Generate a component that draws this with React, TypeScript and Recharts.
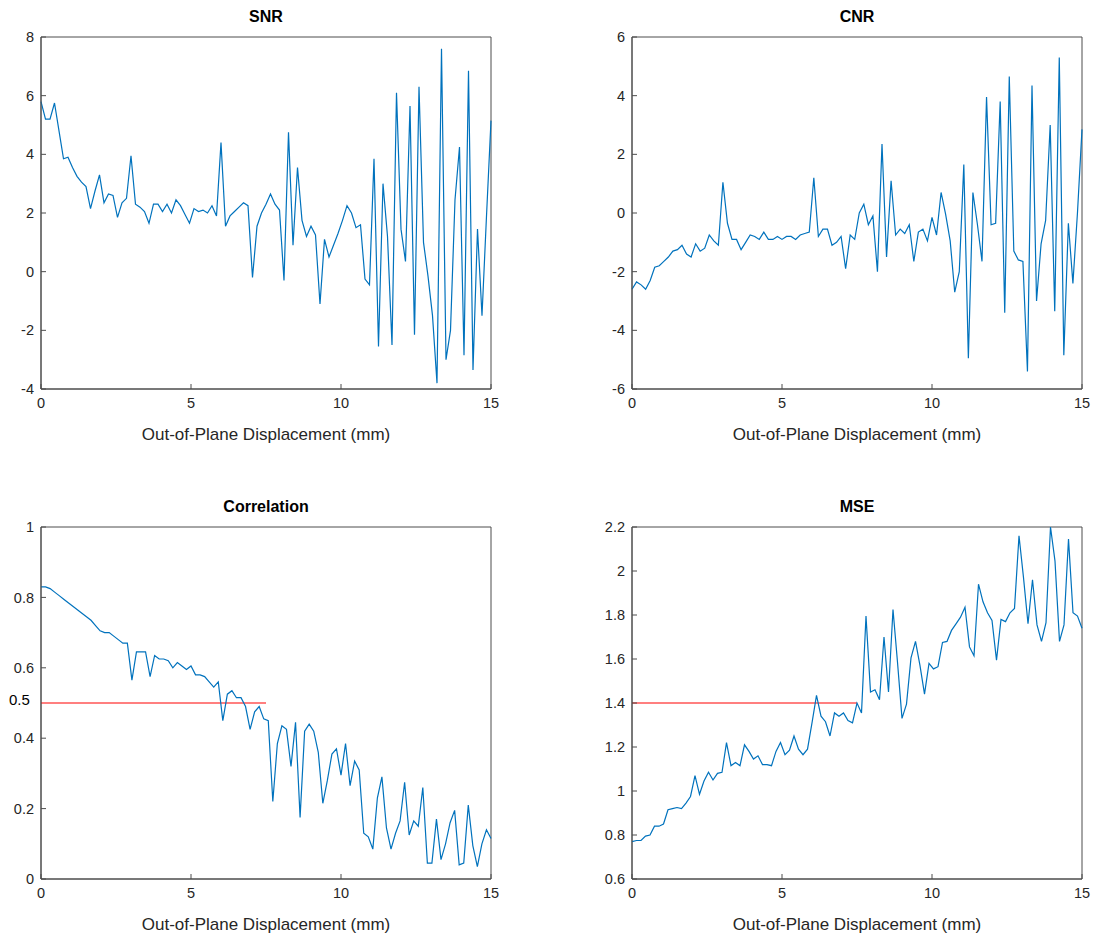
import { LineChart, Line, XAxis, YAxis, ReferenceLine, ReferenceArea } from "recharts";

const snrValues = [5.8, 5.2, 5.2, 5.75, 4.8, 3.85, 3.9, 3.55, 3.25, 3.05, 2.9, 2.15, 2.75, 3.3, 2.35, 2.65, 2.6, 1.85, 2.35, 2.5, 3.95, 2.3, 2.2, 2.05, 1.65, 2.3, 2.3, 2.05, 2.3, 2.0, 2.45, 2.25, 1.95, 1.65, 2.15, 2.05, 2.1, 2.0, 2.25, 1.9, 4.4, 1.55, 1.9, 2.05, 2.2, 2.35, 2.25, -0.2, 1.55, 2.0, 2.3, 2.65, 2.3, 2.1, -0.3, 4.75, 0.9, 3.55, 1.75, 1.2, 1.55, 1.25, -1.1, 1.1, 0.5, 0.9, 1.3, 1.75, 2.25, 2.0, 1.5, 1.6, -0.25, -0.45, 3.85, -2.55, 3.0, 1.2, -2.5, 6.1, 1.45, 0.35, 5.65, -2.15, 6.3, 1.0, -0.15, -1.5, -3.8, 7.6, -3.0, -2.0, 2.45, 4.25, -2.85, 6.85, -3.35, 1.45, -1.5, 1.9, 5.15];

const cnrValues = [-2.6, -2.35, -2.45, -2.6, -2.3, -1.85, -1.8, -1.65, -1.5, -1.3, -1.25, -1.1, -1.4, -1.5, -1.05, -1.3, -1.2, -0.75, -0.95, -1.1, 1.05, -0.35, -0.9, -0.9, -1.25, -1.0, -0.75, -0.8, -0.9, -0.65, -0.9, -0.9, -0.8, -0.9, -0.8, -0.8, -0.9, -0.75, -0.7, -0.65, 1.2, -0.8, -0.55, -0.55, -1.1, -1.0, -0.8, -1.9, -0.75, -0.9, 0.0, 0.3, -0.4, -0.1, -2.0, 2.35, -1.5, 1.1, -0.75, -0.55, -0.7, -0.4, -1.65, -0.65, -0.55, -0.95, -0.15, -0.75, 0.7, -0.05, -0.95, -2.7, -2.0, 1.65, -4.95, 0.7, -0.4, -1.65, 3.95, -0.4, -0.35, 3.8, -3.4, 4.65, -1.3, -1.6, -1.65, -5.4, 4.35, -3.0, -1.05, -0.25, 3.0, -3.35, 5.3, -4.85, -0.35, -2.4, 0.0, 2.85];

const corrValues = [0.83, 0.83, 0.825, 0.815, 0.805, 0.795, 0.785, 0.775, 0.765, 0.755, 0.745, 0.735, 0.72, 0.705, 0.7, 0.7, 0.69, 0.68, 0.67, 0.67, 0.565, 0.645, 0.645, 0.645, 0.575, 0.635, 0.625, 0.625, 0.62, 0.6, 0.615, 0.605, 0.595, 0.605, 0.58, 0.58, 0.575, 0.56, 0.545, 0.56, 0.45, 0.525, 0.535, 0.515, 0.515, 0.49, 0.425, 0.475, 0.49, 0.455, 0.45, 0.22, 0.385, 0.435, 0.425, 0.32, 0.445, 0.175, 0.42, 0.44, 0.42, 0.36, 0.215, 0.28, 0.355, 0.37, 0.295, 0.385, 0.265, 0.335, 0.31, 0.13, 0.12, 0.085, 0.23, 0.29, 0.145, 0.085, 0.13, 0.165, 0.275, 0.125, 0.165, 0.15, 0.26, 0.045, 0.045, 0.17, 0.055, 0.1, 0.16, 0.195, 0.04, 0.045, 0.21, 0.095, 0.035, 0.1, 0.14, 0.115];

const mseValues = [0.77, 0.775, 0.775, 0.795, 0.8, 0.84, 0.84, 0.85, 0.915, 0.92, 0.925, 0.92, 0.945, 0.975, 1.07, 0.985, 1.045, 1.085, 1.05, 1.08, 1.085, 1.22, 1.115, 1.13, 1.115, 1.21, 1.18, 1.145, 1.16, 1.12, 1.12, 1.115, 1.18, 1.22, 1.165, 1.185, 1.25, 1.19, 1.165, 1.19, 1.31, 1.435, 1.34, 1.315, 1.25, 1.355, 1.34, 1.355, 1.32, 1.31, 1.4, 1.355, 1.795, 1.45, 1.46, 1.415, 1.7, 1.45, 1.825, 1.585, 1.33, 1.395, 1.605, 1.68, 1.57, 1.44, 1.58, 1.555, 1.565, 1.675, 1.68, 1.73, 1.76, 1.79, 1.835, 1.655, 1.615, 1.94, 1.86, 1.81, 1.775, 1.595, 1.78, 1.77, 1.81, 1.83, 2.16, 1.97, 1.76, 1.96, 1.755, 1.68, 1.765, 2.2, 2.045, 1.68, 1.755, 2.145, 1.81, 1.795, 1.74];

const xTicks = [0, 5, 10, 15];
const snrTicks = [-4, -2, 0, 2, 4, 6, 8];
const cnrTicks = [-6, -4, -2, 0, 2, 4, 6];
const corrTicks = [0, 0.2, 0.4, 0.6, 0.8, 1];
const mseTicks = [0.6, 0.8, 1, 1.2, 1.4, 1.6, 1.8, 2, 2.2];

const toRows = (vals: number[]) => vals.map((v, i) => ({ x: (i * 15) / (vals.length - 1), y: v }));

const font = "'Liberation Sans', Arial, sans-serif";
const axisColor = "#4d4d4d";
const tick = { fill: "#262626", fontSize: 14.5, fontFamily: font };

interface PanelProps {
  title: string;
  values: number[];
  ticks: number[];
  left: number;
  top: number;
  refY?: number;
}

function Panel({ title, values, ticks, left, top, refY }: PanelProps) {
  const lo = ticks[0];
  const hi = ticks[ticks.length - 1];
  return (
    <div style={{ position: "absolute", left, top, width: 500, height: 450 }}>
      <div style={{ position: "absolute", left: 41, width: 450, top: 8, textAlign: "center", fontFamily: font, fontWeight: "bold", fontSize: 16, color: "#000" }}>{title}</div>
      <LineChart width={500} height={420} data={toRows(values)} margin={{ top: 37, right: 9, bottom: 0, left: 0 }}>
        <XAxis dataKey="x" type="number" domain={[0, 15]} ticks={xTicks} tickSize={-5} tickMargin={14} stroke={axisColor} tick={tick} height={31} />
        <YAxis type="number" domain={[lo, hi]} ticks={ticks} tickSize={-5} tickMargin={12} stroke={axisColor} tick={tick} width={41} interval={0} />
        <ReferenceArea x1={0} x2={15} y1={lo} y2={hi} fill="none" stroke={axisColor} strokeWidth={1} ifOverflow="visible" />
        {refY !== undefined && (
          <ReferenceLine segment={[{ x: 0, y: refY }, { x: 7.5, y: refY }]} stroke="#ff0000" strokeWidth={1.2} ifOverflow="visible" />
        )}
        <Line dataKey="y" type="linear" stroke="#0072BD" strokeWidth={1.2} dot={false} isAnimationActive={false} />
      </LineChart>
      <div style={{ position: "absolute", left: 41, width: 450, top: 425, textAlign: "center", fontFamily: font, fontSize: 17, color: "#262626" }}>Out-of-Plane Displacement (mm)</div>
    </div>
  );
}

export default function App() {
  return (
    <div style={{ position: "absolute", left: 0, top: 0, width: 1099, height: 944, background: "#fff" }}>
      <Panel title="SNR" values={snrValues} ticks={snrTicks} left={0} top={0} />
      <Panel title="CNR" values={cnrValues} ticks={cnrTicks} left={591} top={0} />
      <Panel title="Correlation" values={corrValues} ticks={corrTicks} left={0} top={490} refY={0.5} />
      <Panel title="MSE" values={mseValues} ticks={mseTicks} left={591} top={490} refY={1.4} />
      <div style={{ position: "absolute", left: 0, top: 691, width: 30, height: 20, background: "#fff", fontFamily: font, fontSize: 15, color: "#000", paddingLeft: 9 }}>0.5</div>
    </div>
  );
}
